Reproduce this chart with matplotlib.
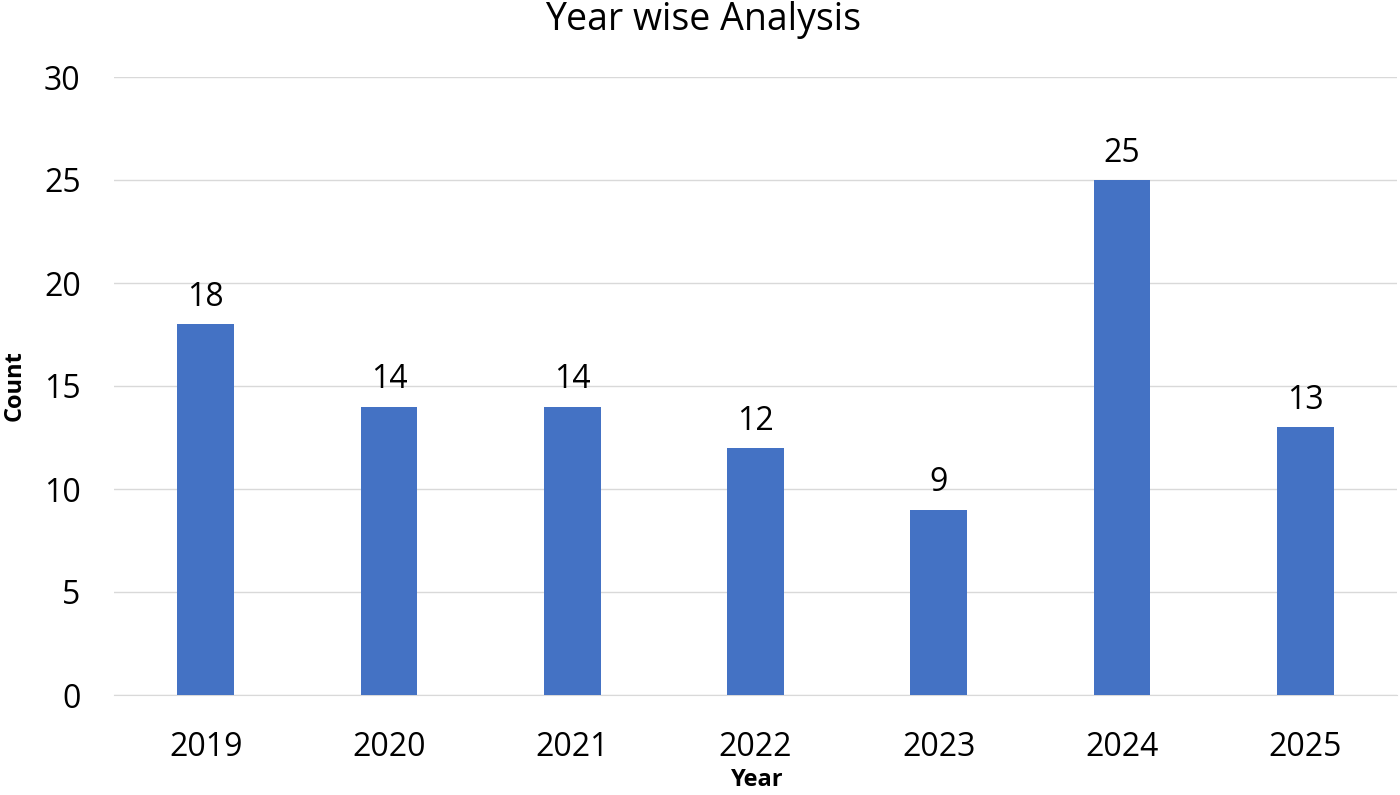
import matplotlib
matplotlib.use("Agg")
import matplotlib.pyplot as plt

years = ["2019", "2020", "2021", "2022", "2023", "2024", "2025"]
counts = [18, 14, 14, 12, 9, 25, 13]
yticks = [0, 5, 10, 15, 20, 25, 30]

plt.rcParams['font.family'] = ['Open Sans', 'DejaVu Sans']

fig = plt.figure(figsize=(14, 7.95), dpi=100)
ax = fig.add_axes([114/1400, 1 - 695/795, (1397-114)/1400, (695-77)/795])

x = range(len(years))
bars = ax.bar(x, counts, width=0.31, color="#4472C4", zorder=3)
for xi, c in zip(x, counts):
    ax.text(xi, c + 0.5, str(c), ha="center", va="bottom", fontsize=23, color="black")

ax.set_xlim(-0.5, len(years) - 0.5)
ax.set_ylim(0, 30)
ax.set_yticks(yticks)
ax.set_xticks(list(x))
ax.set_xticklabels(years)
ax.tick_params(axis="both", length=0, labelsize=23)
ax.tick_params(axis="x", pad=26)
ax.tick_params(axis="y", pad=24)
ax.grid(axis="y", color="#d9d9d9", linewidth=1, zorder=0)
for s in ["top", "right", "left"]:
    ax.spines[s].set_visible(False)
ax.spines["bottom"].set_color("#d9d9d9")

fig.text(757/1400, 1 - 780/795, "Year", ha="center", va="center", fontsize=17, fontweight="bold")
fig.text(15/1400, 1 - 386/795, "Count", ha="center", va="center", fontsize=17, fontweight="bold", rotation=90)
fig.text(703/1400, 1 - 20/795, "Year wise Analysis", ha="center", va="center", fontsize=27)

fig.savefig("out.png", dpi=100)
